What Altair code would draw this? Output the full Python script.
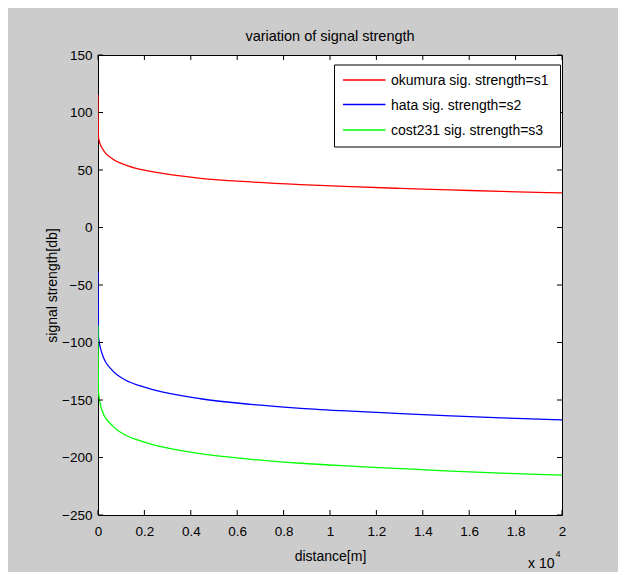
import altair as alt
import pandas as pd

# ---- data (distance in units of 10^4 m) ----
distance_e4 = [0.0, 0.002, 0.019, 0.063, 0.12, 0.183, 0.232, 0.442, 0.658, 0.874, 1.09, 1.305, 1.52, 1.737, 2.0]
okumura = [115.4, 78.0, 68.5, 59.6, 54.2, 50.5, 48.6, 42.8, 39.6, 37.3, 35.5, 34.0, 32.7, 31.4, 30.1]
hata = [-38.0, -95.0, -110.5, -124.5, -132.8, -137.8, -140.8, -148.9, -153.8, -157.2, -159.7, -161.8, -163.8, -165.6, -167.2]
cost231 = [-85.2, -143.0, -160.0, -172.5, -180.7, -185.6, -188.6, -196.7, -201.6, -205.0, -207.5, -209.7, -211.8, -213.6, -215.3]

series_names = ["okumura sig. strength=s1", "hata sig. strength=s2", "cost231 sig. strength=s3"]
series_colors = ["#ff0000", "#0000ff", "#00ff00"]
x_ticks = [0, 0.2, 0.4, 0.6, 0.8, 1.0, 1.2, 1.4, 1.6, 1.8, 2.0]
y_ticks = [-250, -200, -150, -100, -50, 0, 50, 100, 150]

rows = []
for name, vals in zip(series_names, [okumura, hata, cost231]):
    for i, (x, v) in enumerate(zip(distance_e4, vals)):
        rows.append({"distance": x, "strength": v, "series": name, "order": i})
df = pd.DataFrame(rows)

W, H = 464, 460
FONT = "Liberation Sans, Arial, sans-serif"

xscale = alt.Scale(domain=[0, 2], nice=False, zero=False)
yscale = alt.Scale(domain=[-250, 150], nice=False, zero=False)

xaxis = alt.Axis(values=x_ticks, format="~g", labelFlush=False, labelOverlap=False,
                 labelFont=FONT, labelFontSize=13.5, labelColor="black", labelPadding=9,
                 title="distance[m]", titleFont=FONT, titleFontSize=14, titleFontWeight="normal",
                 titleColor="black", titleX=W / 2, titleY=45, titleBaseline="alphabetic",
                 titleAlign="center")
yaxis = alt.Axis(values=y_ticks, labelFlush=False, labelOverlap=False,
                 labelFont=FONT, labelFontSize=13.5, labelColor="black", labelPadding=6,
                 title="signal strength[db]", titleFont=FONT, titleFontSize=14, titleFontWeight="normal",
                 titleColor="black", titleX=-46, titleY=H / 2, titleAngle=270,
                 titleBaseline="middle", titleAlign="center")

X = alt.X("distance:Q", scale=xscale, axis=xaxis)
Y = alt.Y("strength:Q", scale=yscale, axis=yaxis)

color = alt.Color("series:N", scale=alt.Scale(domain=series_names, range=series_colors), legend=None)

lines = alt.Chart(df).mark_line(strokeWidth=1.3, interpolate="monotone", clip=True).encode(
    x=X, y=Y, color=color, order="order:Q", detail="series:N"
)

# inward ticks on all four sides (MATLAB box style)
xt = pd.DataFrame({"distance": x_ticks})
yt = pd.DataFrame({"strength": y_ticks})
tick_style = dict(color="black", strokeWidth=1)
bottom_ticks = alt.Chart(xt).mark_rule(**tick_style).encode(x=X, y=alt.value(H), y2=alt.value(H - 5))
top_ticks = alt.Chart(xt).mark_rule(**tick_style).encode(x=X, y=alt.value(0), y2=alt.value(5))
left_ticks = alt.Chart(yt).mark_rule(**tick_style).encode(y=Y, x=alt.value(0), x2=alt.value(5))
right_ticks = alt.Chart(yt).mark_rule(**tick_style).encode(y=Y, x=alt.value(W - 5), x2=alt.value(W))

# legend box
one = pd.DataFrame({"k": [0]})
lx1, lx2, ly1, ly2 = 236.5, 462.5, 10, 92
legend_box = alt.Chart(one).mark_rect(fill="white", stroke="black", strokeWidth=1).encode(
    x=alt.value(lx1), x2=alt.value(lx2), y=alt.value(ly1), y2=alt.value(ly2)
)
legend_layers = [legend_box]
row_y = [25, 49.5, 75]
for name, col, ry in zip(series_names, series_colors, row_y):
    ldf = pd.DataFrame({"series": [name]})
    legend_layers.append(
        alt.Chart(ldf).mark_rule(color=col, strokeWidth=1.3).encode(
            x=alt.value(245), x2=alt.value(287.5), y=alt.value(ry)
        )
    )
    legend_layers.append(
        alt.Chart(ldf).mark_text(align="left", baseline="middle", font=FONT, fontSize=14, color="black").encode(
            x=alt.value(293), y=alt.value(ry + 1), text="series:N"
        )
    )

title = alt.Chart(one).mark_text(align="center", baseline="alphabetic", font=FONT, fontSize=14.5,
                                  color="black", text="variation of signal strength").encode(
    x=alt.value(W / 2), y=alt.value(-14)
)
exp_base = alt.Chart(one).mark_text(align="left", baseline="alphabetic", font=FONT, fontSize=14,
                                     color="black", text="x 10").encode(
    x=alt.value(430), y=alt.value(513)
)
exp_sup = alt.Chart(one).mark_text(align="left", baseline="alphabetic", font=FONT, fontSize=9,
                                    color="black", text="4").encode(
    x=alt.value(457.5), y=alt.value(502)
)

chart = alt.layer(
    lines, bottom_ticks, top_ticks, left_ticks, right_ticks, *legend_layers, title, exp_base, exp_sup
).properties(
    width=W, height=H,
    padding={"left": 90, "top": 47, "right": 56, "bottom": 57},
    autosize=alt.AutoSizeParams(type="none"),
    background="#cccccc",
).configure_view(
    stroke="black", strokeWidth=1, fill="white"
).configure_axis(
    domain=False, ticks=False, grid=False
)

chart.save("out.html", embed_options={"renderer": "svg", "actions": False})
